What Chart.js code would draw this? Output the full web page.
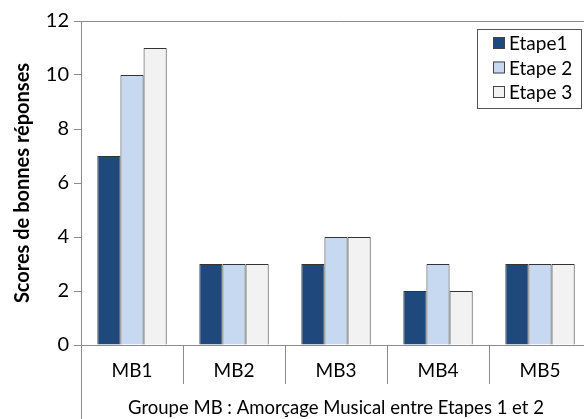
<!DOCTYPE html>
<html>
<head>
<meta charset="utf-8">
<script src="https://cdn.jsdelivr.net/npm/chart.js@4.4.1/dist/chart.umd.min.js"></script>
<style>
  html, body { margin: 0; padding: 0; background: #fff; overflow: hidden; }
</style>
</head>
<body>
<canvas id="chartCanvas" width="600" height="419"></canvas>
<script>
  // chart data
  const categories = ['MB1', 'MB2', 'MB3', 'MB4', 'MB5'];
  const seriesNames = ['Etape1', 'Etape 2', 'Etape 3'];
  const etape1 = [7, 3, 3, 2, 3];
  const etape2 = [10, 3, 4, 3, 3];
  const etape3 = [11, 3, 4, 2, 3];
  const yTicks = [0, 2, 4, 6, 8, 10, 12];
  const xTitle = 'Groupe MB : Amorçage Musical entre Etapes 1 et 2';
  const yTitle = 'Scores de bonnes réponses';

  const fontFamily = 'Lato, "Open Sans", sans-serif';
  const axisColor = '#8c8c8c';

  // frame lines: top edge of the plot and the left line running down through the category area
  const frameLines = {
    id: 'frameLines',
    afterDraw(chart) {
      const { ctx, chartArea } = chart;
      ctx.save();
      ctx.strokeStyle = axisColor;
      ctx.lineWidth = 1;
      ctx.beginPath();
      ctx.moveTo(chartArea.left + 0.5, chartArea.top + 0.5);
      ctx.lineTo(chart.width, chartArea.top + 0.5);
      ctx.moveTo(chartArea.left + 0.5, chartArea.bottom);
      ctx.lineTo(chartArea.left + 0.5, chart.height);
      ctx.stroke();
      ctx.restore();
    }
  };

  // boxed legend in the top right corner of the plot
  const legendBox = {
    id: 'legendBox',
    afterDraw(chart) {
      const { ctx, chartArea } = chart;
      const w = 104, h = 79, rowH = 24.5;
      const x = chartArea.right - 10 - w;
      const y = chartArea.top + 8;
      ctx.save();
      ctx.fillStyle = '#fff';
      ctx.fillRect(x, y, w, h);
      ctx.strokeStyle = '#555';
      ctx.lineWidth = 1;
      ctx.strokeRect(Math.round(x) + 0.5, Math.round(y) + 0.5, w, h);
      ctx.font = '19px ' + fontFamily;
      ctx.textBaseline = 'middle';
      chart.data.datasets.forEach((ds, i) => {
        const cy = y + 14 + i * rowH;
        ctx.fillStyle = ds.backgroundColor;
        ctx.fillRect(x + 16, cy - 6, 12, 12);
        ctx.strokeStyle = '#444';
        ctx.strokeRect(x + 16.5, cy - 5.5, 11, 11);
        ctx.fillStyle = '#000';
        ctx.fillText(ds.label, x + 32, cy + 1);
      });
      ctx.restore();
    }
  };

  const barStyle = {
    borderColor: '#333',
    borderWidth: 1,
    borderSkipped: 'bottom',
    barPercentage: 1.0,
    categoryPercentage: 0.68
  };

  const ctx = document.getElementById('chartCanvas').getContext('2d');
  const chart = new Chart(ctx, {
    type: 'bar',
    data: {
      labels: categories,
      datasets: [
        Object.assign({ label: seriesNames[0], data: etape1, backgroundColor: '#1f497d' }, barStyle),
        Object.assign({ label: seriesNames[1], data: etape2, backgroundColor: '#c6d9f1' }, barStyle),
        Object.assign({ label: seriesNames[2], data: etape3, backgroundColor: '#f2f2f2' }, barStyle)
      ]
    },
    options: {
      responsive: false,
      animation: false,
      layout: { padding: { top: 21, right: 9, left: 0, bottom: 0 } },
      plugins: {
        legend: { display: false },
        tooltip: { enabled: false }
      },
      scales: {
        x: {
          grid: {
            offset: true,
            drawOnChartArea: false,
            drawTicks: true,
            tickLength: 39,
            color: axisColor
          },
          border: { display: true, color: axisColor },
          ticks: {
            color: '#000',
            font: { family: fontFamily, size: 19 },
            padding: -25
          },
          title: {
            display: true,
            text: xTitle,
            color: '#000',
            font: { family: fontFamily, size: 18.5 },
            padding: { top: 0, bottom: 0 }
          },
          afterFit(scale) { scale.height = 74; }
        },
        y: {
          min: 0,
          max: 12,
          afterBuildTicks(scale) { scale.ticks = yTicks.map(v => ({ value: v })); },
          grid: {
            drawOnChartArea: false,
            drawTicks: true,
            tickLength: 7,
            color: axisColor
          },
          border: { display: true, color: axisColor },
          ticks: {
            color: '#000',
            font: { family: fontFamily, size: 20 },
            padding: 5
          },
          title: {
            display: true,
            text: yTitle,
            color: '#000',
            font: { family: fontFamily, size: 20, weight: 'bold' },
            padding: { top: 11, bottom: 0 }
          },
          afterFit(scale) { scale.width = 81; }
        }
      }
    },
    plugins: [frameLines, legendBox]
  });
</script>
</body>
</html>
